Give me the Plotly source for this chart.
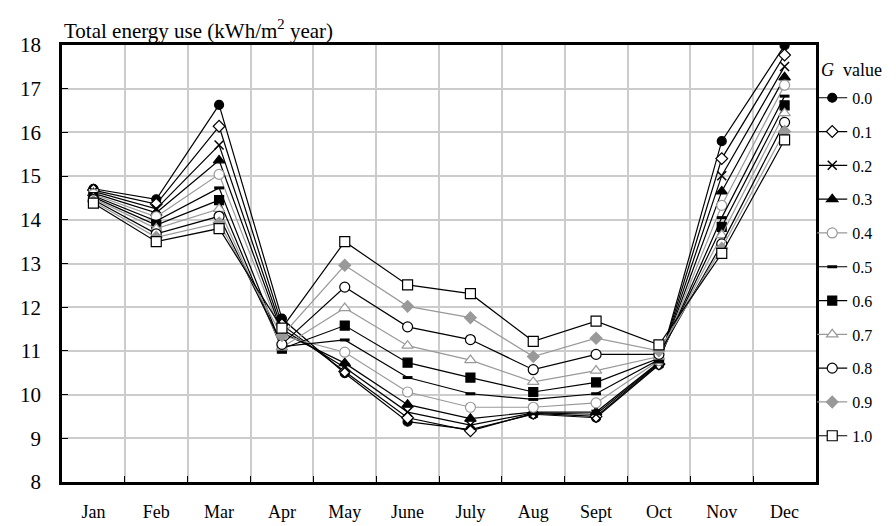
import plotly.graph_objects as go

months = ["Jan", "Feb", "Mar", "Apr", "May", "June", "July", "Aug", "Sept", "Oct", "Nov", "Dec"]
g_labels = ["0.0", "0.1", "0.2", "0.3", "0.4", "0.5", "0.6", "0.7", "0.8", "0.9", "1.0"]

g00 = [14.71, 14.47, 16.63, 11.74, 10.49, 9.38, 9.20, 9.55, 9.47, 10.68, 15.80, 17.99]
g01 = [14.68, 14.36, 16.14, 11.60, 10.53, 9.47, 9.17, 9.57, 9.50, 10.70, 15.40, 17.77]
g02 = [14.65, 14.25, 15.71, 11.50, 10.62, 9.60, 9.30, 9.58, 9.55, 10.72, 15.01, 17.51]
g03 = [14.61, 14.16, 15.36, 11.42, 10.72, 9.77, 9.45, 9.60, 9.60, 10.74, 14.65, 17.26]
g04 = [14.58, 14.07, 15.04, 11.35, 10.97, 10.06, 9.71, 9.71, 9.81, 10.78, 14.33, 17.08]
g05 = [14.55, 13.97, 14.73, 11.10, 11.25, 10.39, 10.02, 9.89, 10.02, 10.80, 14.05, 16.83]
g06 = [14.52, 13.88, 14.45, 11.05, 11.58, 10.73, 10.39, 10.06, 10.28, 10.83, 13.84, 16.62]
g07 = [14.49, 13.80, 14.25, 11.08, 11.98, 11.12, 10.79, 10.29, 10.55, 10.87, 13.65, 16.44]
g08 = [14.46, 13.68, 14.08, 11.15, 12.46, 11.55, 11.26, 10.57, 10.92, 10.92, 13.45, 16.23]
g09 = [14.42, 13.60, 13.93, 11.35, 12.96, 12.02, 11.76, 10.87, 11.29, 11.00, 13.35, 16.02]
g10 = [14.38, 13.50, 13.80, 11.52, 13.50, 12.51, 12.31, 11.22, 11.68, 11.14, 13.23, 15.83]

series = [g00, g01, g02, g03, g04, g05, g06, g07, g08, g09, g10]

BLACK = "#000000"
GRAY = "#999999"
WHITE = "#ffffff"

# (symbol, line color, marker fill, marker outline, size)
styles = [
    ("circle", BLACK, BLACK, BLACK, 9),
    ("diamond", BLACK, WHITE, BLACK, 9),
    ("x-thin", BLACK, BLACK, BLACK, 9),
    ("triangle-up", BLACK, BLACK, BLACK, 10),
    ("circle", GRAY, WHITE, GRAY, 10),
    ("line-ew", BLACK, BLACK, BLACK, 7),
    ("square", BLACK, BLACK, BLACK, 9),
    ("triangle-up", GRAY, WHITE, GRAY, 10),
    ("circle", BLACK, WHITE, BLACK, 10),
    ("diamond", GRAY, GRAY, GRAY, 9),
    ("square", BLACK, WHITE, BLACK, 10),
]

FONT = "Liberation Serif, 'Times New Roman', Times, 'DejaVu Serif', serif"

fig = go.Figure()
for lab, vals, (sym, lc, fill, outl, sz) in zip(g_labels, series, styles):
    lw_m = 1.2
    if sym == "x-thin":
        lw_m = 1.5
    if sym == "line-ew":
        lw_m = 3
    fig.add_trace(go.Scatter(
        x=months, y=vals, name=lab, mode="lines+markers",
        legendgroup=lab,
        line=dict(color=lc, width=1.2),
        marker=dict(symbol=sym, size=sz, color=fill, line=dict(color=outl, width=lw_m)),
    ))

fig.update_layout(
    width=896, height=526,
    margin=dict(l=53, r=88, t=37, b=46),
    paper_bgcolor="white", plot_bgcolor="white",
    font=dict(family=FONT, size=18, color="black"),
    showlegend=True,
    legend=dict(
        x=0.995, y=0.918, xanchor="left", yanchor="top",
        font=dict(family=FONT, size=16, color="black"),
        tracegroupgap=10, itemwidth=30,
        bgcolor="rgba(0,0,0,0)",
    ),
    xaxis=dict(
        type="category", categoryorder="array", categoryarray=months,
        range=[-0.5, 11.5],
        tickson="boundaries", ticks="inside", ticklen=6, tickcolor="black",
        showgrid=True, gridcolor="#cccccc", gridwidth=1.5,
        showline=True, linecolor="black", linewidth=2.5, mirror=True,
        tickfont=dict(family=FONT, size=18),
        ticklabelstandoff=12,
    ),
    yaxis=dict(
        range=[8, 18], dtick=1, tick0=8,
        ticks="inside", ticklen=6, tickcolor="black",
        showgrid=True, gridcolor="#cccccc", gridwidth=1.5,
        showline=True, linecolor="black", linewidth=2.5, mirror=True,
        zeroline=False,
        tickfont=dict(family=FONT, size=21),
        ticklabelstandoff=14,
    ),
    annotations=[
        dict(
            text="Total energy use (kWh/m<sup>2</sup> year)",
            xref="paper", yref="paper", x=0.0, y=1.0, xanchor="left", yanchor="bottom",
            showarrow=False, font=dict(family=FONT, size=21, color="black"),
        ),
        dict(
            text="<i>G</i>  value",
            xref="paper", yref="paper", x=1.004, y=0.9436, xanchor="left", yanchor="middle",
            showarrow=False, font=dict(family=FONT, size=18, color="black"),
        ),
    ],
)

fig.write_html("out.html")
